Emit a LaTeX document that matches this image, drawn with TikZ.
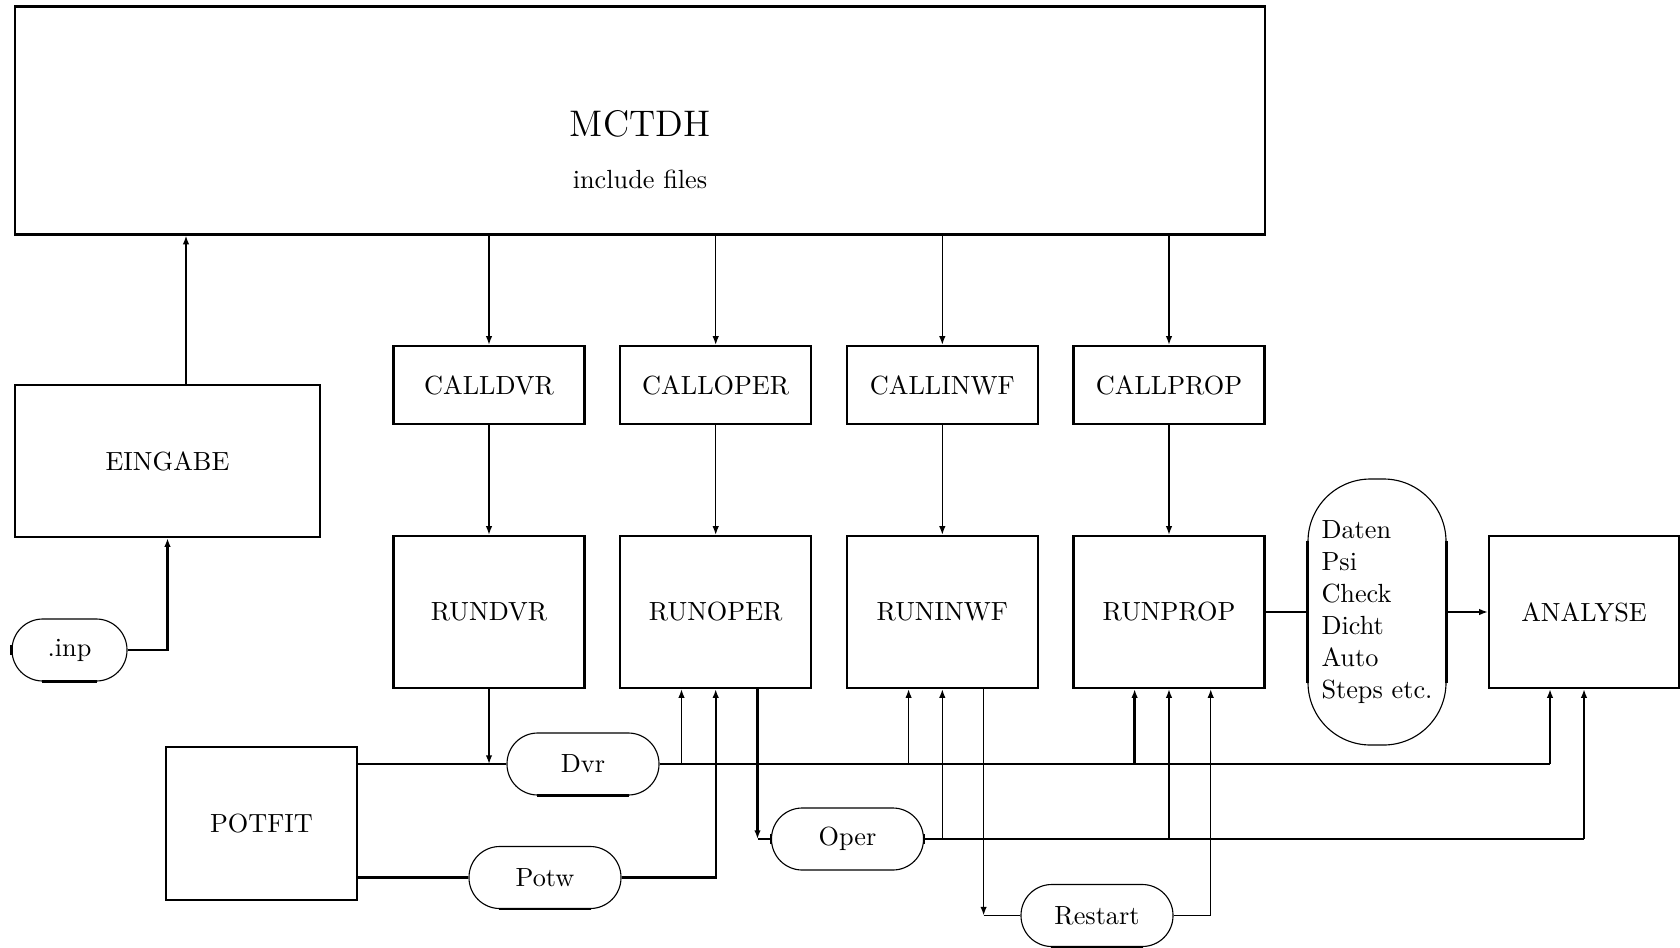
\documentclass[tikz,border=0pt]{standalone}
\usetikzlibrary{arrows.meta}
\begin{document}
\begin{tikzpicture}[x=0.4pt,y=-0.4pt,
  >={Latex[length=3.5pt,width=2.6pt]},
  every node/.style={font=\fontsize{10.5}{12.8}\selectfont},
  box/.style={draw,line width=0.9pt,inner sep=0pt},
  callbox/.style={box,minimum width=76.4pt,minimum height=31.2pt},
  runbox/.style={box,minimum width=76.4pt,minimum height=60.8pt},
  oval/.style={draw,line width=0.45pt,rounded corners=12.3pt,minimum width=60.8pt,minimum height=24.8pt,inner sep=0pt},
  conn/.style={line width=0.6pt},
  tconn/.style={line width=0.9pt},
  bot/.style={line width=0.9pt}]
\useasboundingbox (0,0) rectangle (1680,947);

% main boxes
\node[box,minimum width=500pt,minimum height=91.2pt] (mctdh) at (640,120.5) {};
\node[anchor=base,font=\fontsize{14.8}{17}\selectfont] (mtitle) at (640,136) {MCTDH};
\node[anchor=base] (minc) at (640,188) {include files};

\node[box,minimum width=122pt,minimum height=60.8pt] (eingabe) at (167.5,461) {EINGABE};
\node[oval,minimum width=46pt] (inp) at (69.5,650) {.inp};

\node[callbox] (calldvr) at (489,385) {CALLDVR};
\node[callbox] (calloper) at (715.7,385) {CALLOPER};
\node[callbox] (callinwf) at (942.3,385) {CALLINWF};
\node[callbox] (callprop) at (1169,385) {CALLPROP};

\node[runbox] (rundvr) at (489,612) {RUNDVR};
\node[runbox] (runoper) at (715.7,612) {RUNOPER};
\node[runbox] (runinwf) at (942.3,612) {RUNINWF};
\node[runbox] (runprop) at (1169,612) {RUNPROP};

\node[oval,minimum width=55.2pt,minimum height=106.4pt,rounded corners=25pt,align=left] (daten) at (1377,612) {Daten\\Psi\\Check\\Dicht\\Auto\\Steps etc.};
\node[runbox,minimum width=76pt] (analyse) at (1584,612) {ANALYSE};

\node[box,minimum width=76.4pt,minimum height=61.2pt] (potfit) at (261.5,823.5) {POTFIT};
\node[oval] (dvr) at (583,764) {Dvr};
\node[oval] (potw) at (545,877.5) {Potw};
\node[oval] (oper) at (847.5,839) {Oper};
\node[oval] (restart) at (1097,915.5) {Restart};

% thick straight parts of the ovals
\draw[bot] ([xshift=12.3pt]inp.south west) -- ([xshift=-12.3pt]inp.south east);
\draw[bot] ([yshift=-2pt]inp.west) -- ([yshift=2pt]inp.west);
\draw[bot] ([xshift=12.3pt]dvr.south west) -- ([xshift=-12.3pt]dvr.south east);
\draw[bot] ([xshift=12.3pt]potw.south west) -- ([xshift=-12.3pt]potw.south east);
\draw[bot] ([xshift=12.3pt]restart.south west) -- ([xshift=-12.3pt]restart.south east);
\draw[bot] ([yshift=-2pt]oper.west) -- ([yshift=2pt]oper.west);
\draw[bot] ([yshift=-2pt]oper.east) -- ([yshift=2pt]oper.east);
\draw[bot] ([yshift=-25pt]daten.north west) -- ([yshift=25pt]daten.south west);
\draw[bot] ([yshift=-25pt]daten.north east) -- ([yshift=25pt]daten.south east);

% column coordinates
\coordinate (c186) at (186,0);
\coordinate (c681) at (681.5,0);
\coordinate (c757) at (757.5,0);
\coordinate (c908) at (908.6,0);
\coordinate (c984) at (983.6,0);
\coordinate (c1134) at (1134.6,0);
\coordinate (c1211) at (1210.7,0);
\coordinate (c1550) at (1550,0);

% top part
\draw[conn,->] (eingabe.north -| c186) -- (mctdh.south -| c186);
\draw[tconn,->] (inp.east) -| (eingabe.south);
\foreach \n/\r in {calldvr/rundvr,calloper/runoper,callinwf/runinwf,callprop/runprop}{
  \draw[conn,->] (mctdh.south -| \n) -- (\n.north);
  \draw[conn,->] (\n.south) -- (\r.north);
}

% Dvr line
\draw[conn] (potfit.east |- dvr.west) -- (dvr.west);
\draw[conn,->] (rundvr.south) -- (rundvr.south |- dvr.west);
\draw[conn] (dvr.east) -- (dvr.east -| c1550);
\draw[conn,->] (dvr.east -| c681) -- (runoper.south -| c681);
\draw[conn,->] (dvr.east -| c908) -- (runinwf.south -| c908);
\draw[tconn,->] (dvr.east -| c1134) -- (runprop.south -| c1134);
\draw[tconn,->] (dvr.east -| c1550) -- (analyse.south -| c1550);

% Potw line
\draw[tconn] (potfit.east |- potw.west) -- (potw.west);
\draw[tconn,->] (potw.east) -| (runoper.south);

% Oper line
\draw[tconn,->] (runoper.south -| c757) -- (c757 |- oper.west);
\draw[conn] (c757 |- oper.west) -- (oper.west);
\draw[conn] (oper.east) -- (oper.east -| analyse.south);
\draw[conn,->] (oper.east -| runinwf.south) -- (runinwf.south);
\draw[conn,->] (oper.east -| runprop.south) -- (runprop.south);
\draw[tconn,->] (oper.east -| analyse.south) -- (analyse.south);

% Restart line
\draw[conn,->] (runinwf.south -| c984) -- (c984 |- restart.west);
\draw[conn] (c984 |- restart.west) -- (restart.west);
\draw[conn,->] (restart.east) -| (runprop.south -| c1211);

% Daten
\draw[conn] (runprop.east) -- (daten.west);
\draw[conn,->] (daten.east) -- (analyse.west);
\end{tikzpicture}
\end{document}
